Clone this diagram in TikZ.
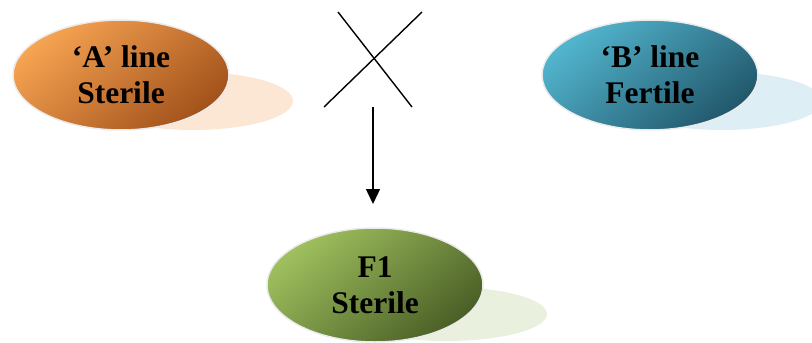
\documentclass[tikz,border=0pt]{standalone}
\usepackage{fontspec}
\setmainfont{Liberation Serif}
\usetikzlibrary{shapes.geometric,arrows.meta}
\definecolor{orangeL}{HTML}{F6A352}
\definecolor{orangeD}{HTML}{A3521B}
\definecolor{orangeS}{HTML}{FCE6D4}
\definecolor{tealL}{HTML}{52B5CE}
\definecolor{tealD}{HTML}{22586C}
\definecolor{tealS}{HTML}{DDEEF4}
\definecolor{greenL}{HTML}{9FC05E}
\definecolor{greenD}{HTML}{4A5F26}
\definecolor{greenS}{HTML}{EAF0DE}
\tikzset{
  blob/.style 2 args={ellipse, minimum width=216pt, minimum height=110pt, inner sep=0pt,
    draw=white!92!black, line width=1.5pt,
    top color=#1, bottom color=#2, shading angle=40,
    font=\fontsize{31.5}{36}\selectfont\bfseries, align=center},
  haze/.style={ellipse, minimum width=200pt, minimum height=58pt, inner sep=0pt, draw=none},
  crossline/.style={line width=1.4pt, black},
  flow/.style={line width=1.4pt, -{Triangle[width=14pt,length=15pt]}}
}
\begin{document}
\begin{tikzpicture}[x=1pt,y=-1pt]
\useasboundingbox (0,0) rectangle (812,343);
% pale offset shadows behind each ellipse
\node[haze, fill=orangeS] (shA) at (193,101) {};
\node[haze, fill=tealS] (shB) at (722,101) {};
\node[haze, fill=greenS, minimum height=54pt] (shF) at (447,314) {};
% the three lines
\node[blob={orangeL}{orangeD}] (A) at (121,75) {‘A’ line\\Sterile};
\node[blob={tealL}{tealD}] (B) at (650,75) {‘B’ line\\Fertile};
\node[blob={greenL}{greenD}, minimum height=114pt] (F) at (375,285) {\raisebox{-3pt}{F1}\\\raisebox{-3pt}{Sterile}};
% cross symbol
\coordinate (c1) at (338,12);
\coordinate (c2) at (412,107);
\coordinate (c3) at (422,12);
\coordinate (c4) at (324,107);
\draw[crossline] (c1) -- (c2);
\draw[crossline] (c3) -- (c4);
% arrow down to the hybrid
\coordinate (top) at (373,107);
\coordinate (tip) at (373,204);
\draw[flow] (top) -- (tip);
\end{tikzpicture}
\end{document}
